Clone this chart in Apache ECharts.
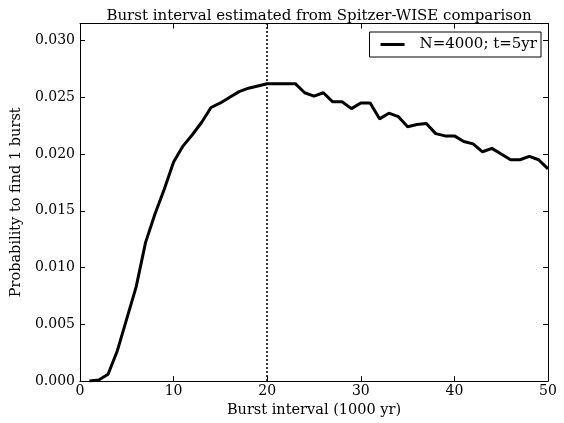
<!DOCTYPE html>
<html>
<head>
<meta charset="utf-8">
<script src="https://cdn.jsdelivr.net/npm/echarts@6/dist/echarts.min.js"></script>
<style>
  html, body { margin: 0; padding: 0; background: #fff; }
  #chart { width: 564px; height: 423px; }
</style>
</head>
<body>
<div id="chart"></div>
<script>
// burst interval (1000 yr)
const burstInterval = [1, 2, 3, 4, 5, 6, 7, 8, 9, 10,
  11, 12, 13, 14, 15, 16, 17, 18, 19, 20,
  21, 22, 23, 24, 25, 26, 27, 28, 29, 30,
  31, 32, 33, 34, 35, 36, 37, 38, 39, 40,
  41, 42, 43, 44, 45, 46, 47, 48, 49, 50]
// probability to find 1 burst
const probability = [0.0000, 0.0001, 0.0006, 0.0027, 0.0055, 0.0083, 0.0122, 0.0147, 0.0169, 0.0193,
  0.0207, 0.0217, 0.0228, 0.0241, 0.0245, 0.0250, 0.0255, 0.0258, 0.0260, 0.0262,
  0.0262, 0.0262, 0.0262, 0.0254, 0.0251, 0.0254, 0.0246, 0.0246, 0.0240, 0.0245,
  0.0245, 0.0231, 0.0236, 0.0233, 0.0224, 0.0226, 0.0227, 0.0218, 0.0216, 0.0216,
  0.0211, 0.0209, 0.0202, 0.0205, 0.0200, 0.0195, 0.0195, 0.0198, 0.0195, 0.0187]
const xTicks = [0, 10, 20, 30, 40, 50]
const yTicks = ['0.000', '0.005', '0.010', '0.015', '0.020', '0.025', '0.030']
const markerX = 20

const font = 'DejaVu Serif'
const chart = echarts.init(document.getElementById('chart'))

const tickStyle = { inside: true, length: 5, lineStyle: { color: '#000', width: 1 } }
const lineStyle = { onZero: false, lineStyle: { color: '#000', width: 1 } }

chart.setOption({
  animation: false,
  title: {
    text: 'Burst interval estimated from Spitzer-WISE comparison',
    left: 314,
    textAlign: 'center',
    top: 4,
    textStyle: { fontFamily: font, fontSize: 15, fontWeight: 'normal', color: '#000' }
  },
  legend: {
    data: ['N=4000; t=5yr'],
    right: 23,
    top: 32,
    icon: 'rect',
    itemWidth: 24,
    itemHeight: 3,
    itemGap: 10,
    padding: [5, 4, 5, 11],
    borderColor: '#000',
    borderWidth: 1,
    borderRadius: 0,
    backgroundColor: '#fff',
    textStyle: { fontFamily: font, fontSize: 15, color: '#000', padding: [0, 0, 0, 10] }
  },
  grid: { left: 80, right: 16, top: 23.5, bottom: 36.3 },
  xAxis: [
    {
      type: 'value', min: xTicks[0], max: xTicks[xTicks.length - 1], interval: 10,
      name: 'Burst interval (1000 yr)', nameLocation: 'middle', nameGap: 17,
      nameTextStyle: { fontFamily: font, fontSize: 14.5, color: '#000' },
      axisLine: lineStyle, axisTick: tickStyle, splitLine: { show: false },
      axisLabel: { fontFamily: font, fontSize: 14, color: '#000', margin: 3 }
    },
    {
      type: 'value', position: 'top', min: xTicks[0], max: xTicks[xTicks.length - 1], interval: 10,
      axisLine: lineStyle, axisTick: tickStyle, splitLine: { show: false },
      axisLabel: { show: false }
    }
  ],
  yAxis: [
    {
      type: 'value', min: 0, max: 0.0315, interval: 0.005,
      name: 'Probability to find 1 burst', nameLocation: 'middle', nameGap: 53,
      nameTextStyle: { fontFamily: font, fontSize: 14.5, color: '#000' },
      axisLine: lineStyle, axisTick: tickStyle, splitLine: { show: false },
      axisLabel: {
        fontFamily: font, fontSize: 14, color: '#000', margin: 5, showMaxLabel: false,
        formatter: v => yTicks[Math.round(v / 0.005)] || ''
      }
    },
    {
      type: 'value', position: 'right', min: 0, max: 0.0315, interval: 0.005,
      axisLine: lineStyle, axisTick: tickStyle, splitLine: { show: false },
      axisLabel: { show: false }
    }
  ],
  series: [
    {
      name: 'N=4000; t=5yr',
      type: 'line',
      data: burstInterval.map((x, i) => [x, probability[i]]),
      symbol: 'none',
      itemStyle: { color: '#000' },
      lineStyle: { color: '#000', width: 3 },
      markLine: {
        silent: true,
        symbol: 'none',
        label: { show: false },
        lineStyle: { color: '#000', type: [2, 2], width: 1.5 },
        data: [{ xAxis: markerX }]
      }
    }
  ]
})
</script>
</body>
</html>
